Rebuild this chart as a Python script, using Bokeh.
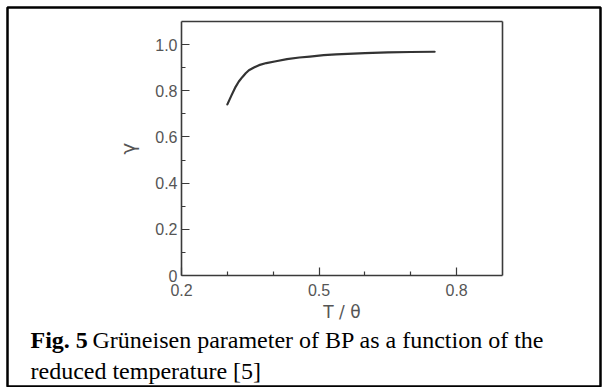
from bokeh.plotting import figure
from bokeh.models import Range1d, FixedTicker, LinearAxis
from bokeh.core.properties import value
from bokeh.embed import file_html
from bokeh.resources import INLINE

# data
t_reduced = [0.300, 0.309, 0.318, 0.325, 0.333, 0.340, 0.347, 0.358, 0.369, 0.385, 0.406,
             0.430, 0.457, 0.480, 0.510, 0.537, 0.600, 0.650, 0.700, 0.752]
gamma = [0.741, 0.780, 0.817, 0.840, 0.860, 0.876, 0.889, 0.901, 0.911, 0.920, 0.928,
         0.937, 0.944, 0.948, 0.954, 0.958, 0.963, 0.966, 0.968, 0.969]

x_major = [0.2, 0.5, 0.8]
x_minor = [0.3, 0.4, 0.6, 0.7]
y_major = [0, 0.2, 0.4, 0.6, 0.8, 1.0]
y_minor = [0.1, 0.3, 0.5, 0.7, 0.9]
y_labels = {0: "0", 0.2: "0.2", 0.4: "0.4", 0.6: "0.6", 0.8: "0.8", 1.0: "1.0"}
x_bounds = (0.2, 0.9)
y_bounds = (0.0, 1.1)

caption_bold = "Fig. 5"
caption_line1 = "Grüneisen parameter of BP as a function of the"
caption_line2 = "reduced temperature [5]"

axis_col = "#3a3a3a"
label_col = "#555555"

# page geometry (pixels)
W, H = 606, 387
OUT_L, OUT_T, OUT_R = 7, 7, 600          # outer figure box
PL, PR, PT, PB = 181, 502, 21, 275       # plot box

sx = (PR - PL) / (x_bounds[1] - x_bounds[0])
sy = (PB - PT) / (y_bounds[1] - y_bounds[0])

def px_x(px):
    return x_bounds[0] + (px - PL) / sx

def px_y(py):
    return y_bounds[0] + (PB - py) / sy

p = figure(width=W, height=H,
           x_range=Range1d(px_x(OUT_L), px_x(OUT_R)),
           y_range=Range1d(px_y(H), px_y(OUT_T)),
           output_backend="svg", toolbar_location=None,
           min_border_left=OUT_L, min_border_right=W - OUT_R,
           min_border_top=OUT_T, min_border_bottom=0)
p.background_fill_color = "white"
p.border_fill_color = "white"
p.outline_line_color = "black"
p.outline_line_width = 2.5
p.xgrid.visible = False
p.ygrid.visible = False

p.line(t_reduced, gamma, line_color="#333333", line_width=2.2, line_join="round", line_cap="round")

xa = p.xaxis[0]
ya = p.yaxis[0]
xa.fixed_location = y_bounds[0]
ya.fixed_location = x_bounds[0]
xa.bounds = x_bounds
ya.bounds = y_bounds

top = LinearAxis(fixed_location=y_bounds[1], bounds=x_bounds, ticker=FixedTicker(ticks=[]))
right = LinearAxis(fixed_location=x_bounds[1], bounds=y_bounds, ticker=FixedTicker(ticks=[]))
p.add_layout(top, "above")
p.add_layout(right, "right")

for ax in (xa, ya, top, right):
    ax.axis_line_color = axis_col
    ax.axis_line_width = 1.6
    ax.major_tick_line_color = axis_col
    ax.minor_tick_line_color = axis_col
    ax.major_tick_line_width = 1.2
    ax.minor_tick_line_width = 1.2
    ax.major_tick_in = 8
    ax.major_tick_out = 0
    ax.minor_tick_in = 4
    ax.minor_tick_out = 0
    ax.major_label_text_font = "Liberation Sans"
    ax.major_label_text_font_size = "16px"
    ax.major_label_text_color = label_col
    ax.axis_label_text_font = "DejaVu Sans"
    ax.axis_label_text_font_style = "normal"
    ax.axis_label_text_color = label_col

for ax in (top, right):
    ax.major_tick_in = 0
    ax.minor_tick_in = 0
    ax.major_label_text_color = None

xa.ticker = FixedTicker(ticks=x_major, minor_ticks=x_minor)
xa.major_label_standoff = 8
xa.axis_label = "T / θ"
xa.axis_label_text_font_size = "17px"
xa.axis_label_standoff = 3

ya.ticker = FixedTicker(ticks=y_major, minor_ticks=y_minor)
ya.major_label_overrides = y_labels
ya.major_label_standoff = 4
ya.axis_label = "γ"
ya.axis_label_text_font_size = "20px"
ya.axis_label_standoff = 12

cap_font = value("Liberation Serif")
p.text(x=[px_x(30)], y=[px_y(339)], text=[caption_bold], text_font=cap_font,
       text_font_style="bold", text_font_size="24px", text_color="black",
       text_baseline="alphabetic", text_align="left")
p.text(x=[px_x(92)], y=[px_y(339)], text=[caption_line1], text_font=cap_font,
       text_font_size="24px", text_color="black",
       text_baseline="alphabetic", text_align="left")
p.text(x=[px_x(30)], y=[px_y(370)], text=[caption_line2], text_font=cap_font,
       text_font_size="24px", text_color="black",
       text_baseline="alphabetic", text_align="left")

open("out.html", "w").write(file_html(p, INLINE))
